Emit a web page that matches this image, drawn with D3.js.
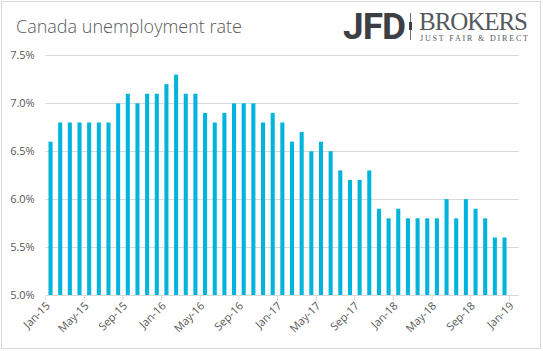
<!DOCTYPE html>
<html>
<head>
<meta charset="utf-8">
<script src="https://cdn.jsdelivr.net/npm/d3@7"></script>
<style>
  body { margin: 0; background: #fff; }
  svg { display: block; font-family: "Open Sans", sans-serif; }
</style>
</head>
<body>
<svg id="chart"></svg>
<script>
// monthly slots Jan-15 .. Jan-19 (last slot has no bar)
const months = [];
const monthNames = ["Jan","Feb","Mar","Apr","May","Jun","Jul","Aug","Sep","Oct","Nov","Dec"];
["15","16","17","18"].forEach(y => monthNames.forEach(m => months.push(m + "-" + y)));
months.push("Jan-19");

// unemployment rate, %
const rates = [
  6.6, 6.8, 6.8, 6.8, 6.8, 6.8, 6.8, 7.0, 7.1, 7.0, 7.1, 7.1,
  7.2, 7.3, 7.1, 7.1, 6.9, 6.8, 6.9, 7.0, 7.0, 7.0, 6.8, 6.9,
  6.8, 6.6, 6.7, 6.5, 6.6, 6.5, 6.3, 6.2, 6.2, 6.3, 5.9, 5.8,
  5.9, 5.8, 5.8, 5.8, 5.8, 6.0, 5.8, 6.0, 5.9, 5.8, 5.6, 5.6
];

const xTickLabels = ["Jan-15","May-15","Sep-15","Jan-16","May-16","Sep-16","Jan-17",
  "May-17","Sep-17","Jan-18","May-18","Sep-18","Jan-19"];
const yTicks = [5.0, 5.5, 6.0, 6.5, 7.0, 7.5];

const width = 543, height = 351;
const margin = { left: 45.7, right: 24, top: 55.4, bottom: 56 };

const svg = d3.select("#chart")
  .attr("width", width)
  .attr("height", height);

// outer frame
svg.append("rect")
  .attr("x", 1.5).attr("y", 1.5)
  .attr("width", 539).attr("height", 347)
  .attr("fill", "#fff")
  .attr("stroke", "#d9d9d9");

const x = d3.scaleBand()
  .domain(months)
  .range([margin.left, width - margin.right])
  .paddingInner(0.58)
  .paddingOuter(0.29);

const y = d3.scaleLinear()
  .domain([5, 7.5])
  .range([height - margin.bottom, margin.top]);

// gridlines
svg.append("g")
  .selectAll("line")
  .data(yTicks.slice(1))
  .join("line")
    .attr("x1", margin.left)
    .attr("x2", width - margin.right)
    .attr("y1", d => Math.round(y(d)) + 0.5)
    .attr("y2", d => Math.round(y(d)) + 0.5)
    .attr("stroke", "#d9d9d9");

// y labels
svg.append("g")
  .selectAll("text")
  .data(yTicks)
  .join("text")
    .attr("x", margin.left - 11)
    .attr("y", d => y(d))
    .attr("dy", "0.35em")
    .attr("text-anchor", "end")
    .attr("font-size", 11)
    .attr("fill", "#595959")
    .text(d => d.toFixed(1) + "%");

// bars
svg.append("g")
  .selectAll("rect")
  .data(rates)
  .join("rect")
    .attr("x", (d, i) => x(months[i]))
    .attr("width", x.bandwidth())
    .attr("y", d => y(d))
    .attr("height", d => y(5) - y(d))
    .attr("fill", "#00b4dc");

// x axis: ticks sit on slot boundaries
const slotShift = (x.step() - x.bandwidth()) / 2;
const xAxis = svg.append("g")
  .attr("transform", `translate(0,${Math.round(y(5)) + 0.5})`)
  .call(d3.axisBottom(x).tickValues(xTickLabels).tickSize(5).tickSizeOuter(0));

xAxis.select(".domain")
  .attr("d", `M${margin.left},0H${width - margin.right}`)
  .attr("stroke", "#d9d9d9");

xAxis.selectAll(".tick")
  .attr("transform", d => `translate(${x(d) - slotShift},0)`);
xAxis.selectAll(".tick line").attr("stroke", "#d9d9d9");
xAxis.selectAll(".tick text")
  .attr("font-family", "Open Sans, sans-serif")
  .attr("font-size", 11)
  .attr("fill", "#595959")
  .attr("text-anchor", "end")
  .attr("dy", null)
  .attr("y", 0)
  .attr("transform", "translate(5,11) rotate(-45)");

// title
svg.append("text")
  .attr("x", 16)
  .attr("y", 33)
  .attr("font-size", 18)
  .attr("font-weight", 300)
  .attr("fill", "#595959")
  .text("Canada unemployment rate");

// logo
const logo = svg.append("g");
logo.append("text")
  .attr("x", 343).attr("y", 39)
  .attr("font-family", "Roboto, sans-serif")
  .attr("font-weight", 700)
  .attr("font-size", 37)
  .attr("letter-spacing", -1)
  .attr("fill", "#3c3f44")
  .text("JFD");
logo.append("line")
  .attr("x1", 410.5).attr("x2", 410.5)
  .attr("y1", 13).attr("y2", 40)
  .attr("stroke", "#6b6f74").attr("stroke-width", 1);
logo.append("rect")
  .attr("x", 409).attr("y", 22)
  .attr("width", 3).attr("height", 8)
  .attr("fill", "#3c3f44");
logo.append("text")
  .attr("x", 419).attr("y", 30)
  .attr("font-family", "Liberation Serif, serif")
  .attr("font-size", 25)
  .attr("textLength", 109)
  .attr("fill", "#55595e")
  .text("BROKERS");
logo.append("text")
  .attr("x", 420).attr("y", 40.5)
  .attr("font-family", "Liberation Serif, serif")
  .attr("font-size", 8)
  .attr("textLength", 108)
  .attr("fill", "#55595e")
  .text("JUST FAIR & DIRECT");
</script>
</body>
</html>
